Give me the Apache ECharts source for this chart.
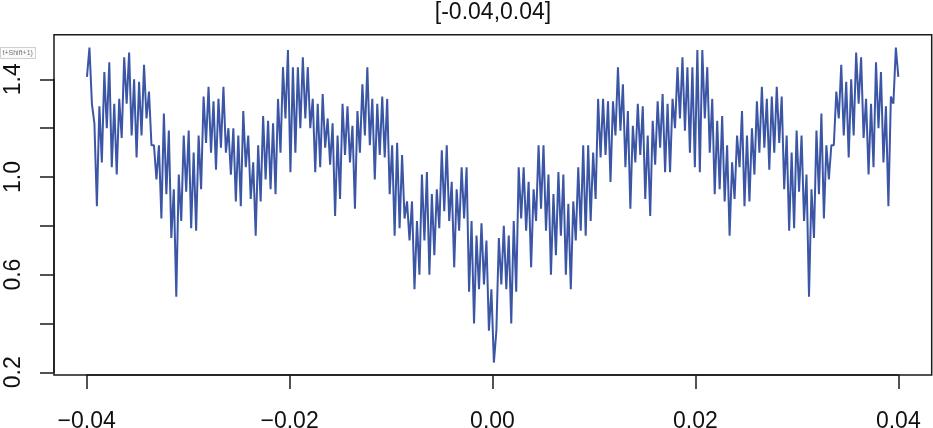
<!DOCTYPE html>
<html>
<head>
<meta charset="utf-8">
<title>[-0.04,0.04]</title>
<script src="https://cdn.jsdelivr.net/npm/echarts@6/dist/echarts.min.js"></script>
<style>
  html, body { margin: 0; padding: 0; background: #fff; }
  #main { width: 933px; height: 428px; }
</style>
</head>
<body>
<div id="main"></div>
<script type="text/javascript">
    // values, left to right (pairs of high / low per column)
    var segA = [1.41,
        1.53,1.30, 1.22,0.88, 1.29,1.06, 1.43,1.20, 1.47,1.04, 1.30,1.01, 1.32,1.16, 1.49,1.30,
        1.51,1.17, 1.40,1.08, 1.39,1.17, 1.46,1.24, 1.35,1.13, 1.13,0.99, 1.13,0.83, 1.26,0.93,
        1.19,0.75, 0.95,0.51, 1.01,0.82, 1.17,0.94, 1.19,0.79, 1.10,0.78, 1.17,0.95, 1.33,1.14,
        1.37,1.10, 1.31,1.03, 1.32,1.12, 1.37,1.10, 1.20,1.01, 1.20,0.90, 1.17,0.88, 1.27,1.04,
        1.17,0.91, 1.06,0.76, 1.13,0.90, 1.25,0.99, 1.23,0.95, 1.22,0.93, 1.32,1.10, 1.45,1.24,
        1.52,1.02];
    var segB = [
        1.45,1.10, 1.45,1.20, 1.49,1.24, 1.45,1.20, 1.32,1.02, 1.30,1.04, 1.34,1.12, 1.24,1.05,
        1.22,0.84, 1.17,0.91, 1.30,1.09, 1.29,1.06, 1.21,0.87, 1.27,1.10, 1.38,1.17, 1.45,1.13,
        1.32,0.99, 1.30,1.09, 1.33,1.08, 1.32,0.93, 1.13,0.76, 1.14,0.79, 1.09,0.83, 0.90,0.74,
        0.90,0.54, 0.82,0.60, 1.01,0.74, 1.02,0.60, 0.93,0.68, 0.95,0.79, 1.11,0.86, 1.13,0.82,
        0.98,0.63, 0.95,0.78, 1.04,0.83, 1.04,0.53, 0.82,0.40, 0.76,0.54, 0.81,0.56, 0.74,0.37,
        0.54,0.24];
    var segC = [
        0.37,0.75, 0.56,0.80, 0.54,0.76, 0.40,0.82, 0.53,1.04, 0.83,1.04, 0.78,0.98, 0.63,0.95,
        0.82,1.13, 0.87,1.13, 0.78,1.01, 0.60,0.93, 0.68,1.02, 0.76,1.01, 0.60,0.89, 0.54,0.90,
        0.74,1.04, 0.78,1.13, 0.76,1.13, 0.82,1.10, 0.91,1.32, 1.08,1.32, 1.09,1.31, 0.98,1.31,
        1.17,1.45, 1.19,1.38, 1.04,1.27, 0.87,1.21, 1.06,1.30, 1.09,1.29, 0.91,1.17, 0.84,1.23,
        1.05,1.31, 1.12,1.34, 1.02,1.30, 1.02,1.32, 1.20,1.45, 1.24,1.49, 1.19,1.45, 1.10,1.45,
        1.04,1.52];
    var segD = [
        1.02,1.52, 1.24,1.45, 1.10,1.32, 0.93,1.23, 0.95,1.25, 0.90,1.13, 0.76,1.06, 0.91,1.17,
        1.04,1.27, 0.88,1.17, 0.90,1.20, 1.01,1.31, 1.10,1.37, 1.12,1.32, 1.03,1.33, 1.10,1.37,
        1.14,1.33, 0.95,1.17, 0.78,1.10, 0.79,1.19, 0.94,1.17, 0.82,1.01, 0.51,0.95, 0.75,1.19,
        0.93,1.26, 0.83,1.13, 0.99,1.13, 1.13,1.35, 1.24,1.46, 1.17,1.39, 1.08,1.40, 1.17,1.51,
        1.30,1.49, 1.16,1.32, 1.01,1.30, 1.04,1.47, 1.20,1.43, 1.06,1.29, 0.88,1.33, 1.30,1.53,
        1.41];

    var xMin = -0.04, xMax = 0.04;
    var xLabels = {'-0.04': '\u22120.04', '-0.02': '\u22120.02', '0.00': '0.00', '0.02': '0.02', '0.04': '0.04'};
    var yLabels = ['0.2', '0.6', '1.0', '1.4'];
    var titleText = '[-0.04,0.04]';

    var yVals = [].concat(segA, segB, segC, segD);
    var n = yVals.length;
    var points = [];
    for (var i = 0; i < n; i++) {
        points.push([xMin + i * (xMax - xMin) / (n - 1), yVals[i]]);
    }

    var myChart = echarts.init(document.getElementById('main'));

    var font = 'Liberation Sans, Arial, Helvetica, sans-serif';
    var ink = '#1a1a1a';

    var option = {
        animation: false,
        backgroundColor: '#fff',
        title: {
            text: titleText,
            left: 488,
            top: -4,
            textAlign: 'center',
            textStyle: { fontFamily: font, fontSize: 23, fontWeight: 'normal', color: '#111' }
        },
        grid: [
            // plot box (data)
            { left: 54, right: 1.3, top: 34.7, bottom: 53, show: true, borderColor: ink, borderWidth: 1.5, outerBoundsMode: 'none' },
            // x ticks: first to last tick
            { left: 86.7, right: 34.7, top: 34.7, bottom: 53, show: false, outerBoundsMode: 'none' },
            // y ticks: first to last tick
            { left: 54, right: 1.3, top: 79.3, bottom: 55.7, show: false, outerBoundsMode: 'none' }
        ],
        xAxis: [
            { type: 'value', gridIndex: 0, min: -0.04325, max: 0.04329, show: false },
            {
                type: 'value', gridIndex: 1, min: -0.04, max: 0.04, interval: 0.02,
                position: 'bottom',
                axisLine: { show: true, onZero: false, lineStyle: { color: ink, width: 1.5 } },
                axisTick: { show: true, inside: false, length: 14, lineStyle: { color: ink, width: 1.5 } },
                splitLine: { show: false },
                axisLabel: {
                    margin: 35, fontFamily: font, fontSize: 23, color: '#111',
                    formatter: function (v) { return xLabels[v.toFixed(2)] || ''; }
                }
            },
            { type: 'value', gridIndex: 2, min: 0, max: 1, show: false }
        ],
        yAxis: [
            { type: 'value', gridIndex: 0, min: 0.189, max: 1.583, show: false },
            { type: 'value', gridIndex: 1, min: 0, max: 1, show: false },
            {
                type: 'value', gridIndex: 2, min: 0.2, max: 1.4, interval: 0.2,
                position: 'left',
                axisLine: { show: true, onZero: false, lineStyle: { color: ink, width: 1.5 } },
                axisTick: { show: true, inside: false, length: 14, lineStyle: { color: ink, width: 1.5 } },
                splitLine: { show: false },
                axisLabel: {
                    margin: 29, rotate: 90, fontFamily: font, fontSize: 23, color: '#111',
                    formatter: function (v) {
                        var s = v.toFixed(1);
                        return yLabels.indexOf(s) >= 0 ? s : '';
                    }
                }
            }
        ],
        graphic: [
            {
                type: 'group', left: 0, top: 47,
                children: [
                    { type: 'rect', shape: { x: -2, y: 0, width: 35, height: 11 }, style: { fill: '#fafafa', stroke: '#cfcfcf', lineWidth: 1 } },
                    { type: 'text', x: 0, y: 2, style: { text: 't+Shift+1)', fontSize: 7, fontFamily: font, fill: '#777' } }
                ]
            }
        ],
        series: [{
            type: 'line',
            xAxisIndex: 0,
            yAxisIndex: 0,
            data: points,
            showSymbol: false,
            symbol: 'none',
            lineStyle: { color: '#3c56a6', width: 2 },
            z: 3
        }]
    };

    myChart.setOption(option);
</script>
</body>
</html>
